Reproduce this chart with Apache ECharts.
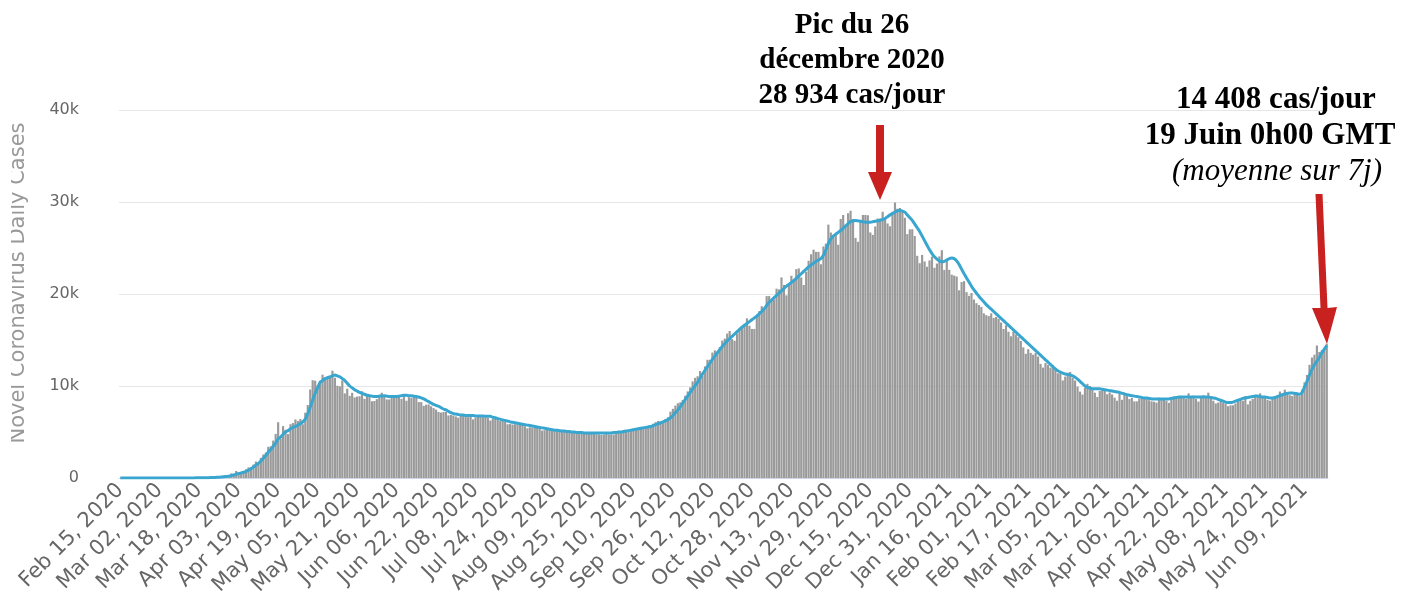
<!DOCTYPE html>
<html>
<head>
<meta charset="utf-8">
<title>Novel Coronavirus Daily Cases</title>
<script src="https://cdn.jsdelivr.net/npm/echarts@6/dist/echarts.min.js"></script>
<style>
  html, body { margin: 0; padding: 0; background: #fff; }
  #chart { width: 1416px; height: 610px; }
</style>
</head>
<body>
<div id="chart"></div>
<script>
// daily new cases, in thousands, Feb 15 2020 -> Jun 18 2021 (one line per month)
const dailyCasesK = [
  0,0,0,0,0,0,0,0,0,0,0,0,0,0,0,
  0,0,0,0,0,0,0,0,0,0,0,0.01,0.01,0.01,0.01,0.03,0.02,0.03,0.05,0.05,0.05,0.06,0.07,0.06,0.16,0.18,0.2,0.23,0.27,0.3,0.5,
  0.44,0.77,0.6,0.58,0.66,0.95,1.15,1.18,1.46,1.79,1.67,2.19,2.56,2.77,3.39,3.45,4.07,4.79,6.06,4.27,5.64,5.24,4.77,5.85,5.97,6.36,6.2,6.41,5.84,7.1,
  7.93,9.62,10.63,10.58,10.1,10.56,11.23,10.7,10.82,11.01,11.66,10.9,10.03,9.97,10.6,9.2,9.71,8.93,9.26,8.76,8.85,8.89,9.43,8.6,8.95,8.92,8.34,8.37,8.57,8.95,9.27,
  9.04,8.54,8.54,8.83,8.73,8.86,8.98,8.6,8.99,8.4,8.78,8.71,8.84,8.84,8.25,8.25,7.84,7.97,7.99,7.79,7.6,7.43,7.18,7.11,7.18,7.18,6.8,6.85,6.79,6.69,
  6.56,6.76,6.74,6.63,6.61,6.74,6.37,6.56,6.63,6.64,6.61,6.62,6.54,6.25,6.42,6.43,6.41,6.2,6.17,6.11,5.84,5.86,5.81,5.85,5.81,5.77,5.76,5.64,5.4,5.51,5.48,
  5.46,5.43,5.43,5.16,5.2,5.24,5.21,5.24,5.19,5.1,5.12,5.1,5.06,5.07,5.06,4.95,4.93,4.91,4.89,4.87,4.83,4.84,4.81,4.92,4.85,4.75,4.74,4.68,4.71,4.98,4.73,
  4.73,4.73,4.99,5.11,5.0,5.21,5.2,5.18,5.1,5.36,5.36,5.45,5.44,5.45,5.51,5.53,5.67,5.9,6.07,6.2,6.15,6.23,6.43,6.6,7.21,7.52,7.87,8.13,8.23,8.48,
  8.95,9.41,9.86,10.5,10.89,11.06,11.62,11.12,12.13,12.85,12.85,13.63,13.87,13.75,14.23,14.93,15.15,15.7,15.98,15.1,14.92,15.7,16.2,16.52,16.74,17.35,16.55,16.2,16.2,17.7,18.14,
  18.67,18.26,19.77,19.77,19.4,19.4,20.58,20.5,21.8,20.98,19.85,20.98,21.98,21.61,22.7,22.78,21.8,20.98,22.41,23.61,24.32,24.82,24.58,24.58,23.23,25.17,25.47,27.54,26.68,26.34,
  26.4,25.35,28.15,28.59,27.4,28.78,29.04,28.14,26.1,25.67,27.93,28.59,28.59,28.56,26.69,26.43,27.34,28.21,28.21,28.95,28.14,27.66,27.36,28.93,29.94,29.26,29.34,28.95,28.28,26.51,27.03,
  27.04,26.3,24.15,23.35,24.25,23.54,22.96,23.65,24.06,22.85,23.31,24.09,24.76,22.62,23.63,22.63,22.1,22.0,21.9,20.4,21.3,21.4,20.2,19.8,20.1,19.4,19.0,18.8,18.6,17.9,17.7,
  17.6,17.9,17.4,17.5,17.3,16.9,16.2,16.6,15.9,15.4,15.9,15.6,15.3,14.9,14.2,13.5,14.0,13.6,13.4,13.6,13.2,12.4,12.0,12.5,12.3,12.0,12.1,11.7,
  11.38,11.36,10.6,11.02,11.45,11.53,10.9,10.6,9.93,9.39,9.07,9.8,10.24,10.0,9.6,9.27,8.8,9.46,9.7,9.5,9.1,9.3,9.08,8.73,8.4,9.14,8.5,9.06,8.9,8.58,8.7,
  8.33,8.33,8.6,8.65,8.65,8.6,8.45,8.33,8.29,8.2,8.73,8.6,8.6,8.4,8.17,8.6,8.86,8.7,8.71,8.7,8.69,8.6,9.2,8.84,8.95,8.6,8.3,8.7,9.0,8.9,
  9.27,8.7,8.4,8.1,8.2,8.3,8.2,8.1,7.8,7.9,7.9,8.1,8.3,8.6,8.4,8.9,8.0,8.4,8.6,8.8,8.9,9.2,8.7,8.8,8.5,8.4,8.6,8.8,9.0,9.4,9.1,
  9.6,9.3,9.0,8.9,9.3,9.1,8.9,9.6,10.4,11.2,12.3,13.1,13.4,14.4,13.7,13.9,14.1,14.6
]

// 7-day average, in thousands, same days
const avg7DayK = [
  0,0,0,0,0,0,0,0,0,0,0,0,0,0,0,
  0,0,0,0,0,0,0,0,0,0,0,0,0.01,0.01,0.01,0.01,0.02,0.02,0.03,0.03,0.04,0.04,0.05,0.05,0.07,0.09,0.11,0.14,0.17,0.2,0.26,
  0.33,0.42,0.48,0.55,0.62,0.72,0.85,1.0,1.2,1.4,1.6,1.85,2.15,2.45,2.8,3.1,3.45,3.8,4.25,4.45,4.75,5.0,5.15,5.35,5.5,5.6,5.75,5.9,6.1,6.4,
  7.0,7.7,8.5,9.2,9.8,10.4,10.6,10.8,10.9,11.0,11.1,11.2,11.1,11.0,10.8,10.6,10.3,10.0,9.8,9.6,9.45,9.3,9.2,9.1,9.0,8.95,8.9,8.85,8.85,8.9,8.9,
  8.95,8.9,8.85,8.85,8.85,8.85,8.9,8.95,9.0,9.0,8.95,8.95,8.9,8.85,8.8,8.7,8.6,8.45,8.3,8.15,8.0,7.9,7.8,7.65,7.5,7.4,7.25,7.1,7.0,6.95,
  6.9,6.85,6.85,6.8,6.8,6.8,6.8,6.75,6.75,6.75,6.75,6.7,6.7,6.7,6.6,6.55,6.45,6.4,6.3,6.25,6.2,6.1,6.05,6.0,5.95,5.9,5.85,5.8,5.75,5.7,5.65,
  5.6,5.55,5.5,5.45,5.4,5.35,5.3,5.25,5.2,5.2,5.15,5.1,5.1,5.05,5.05,5.0,5.0,4.95,4.95,4.95,4.9,4.9,4.9,4.9,4.9,4.9,4.9,4.9,4.9,4.9,4.9,
  4.9,4.95,4.95,5.0,5.0,5.05,5.1,5.15,5.2,5.25,5.3,5.35,5.4,5.45,5.5,5.55,5.6,5.7,5.8,5.9,6.0,6.1,6.2,6.35,6.55,6.8,7.1,7.4,7.75,8.15,
  8.55,8.9,9.3,9.7,10.05,10.4,10.85,11.3,11.7,12.1,12.5,12.9,13.25,13.6,13.95,14.3,14.6,14.9,15.15,15.4,15.65,15.9,16.15,16.4,16.6,16.8,17.0,17.2,17.4,17.6,17.85,
  18.1,18.4,18.75,19.1,19.35,19.6,19.85,20.1,20.35,20.6,20.85,21.05,21.25,21.45,21.7,21.95,22.2,22.45,22.7,22.95,23.15,23.35,23.55,23.7,23.85,24.2,24.8,25.5,26.0,26.3,
  26.5,26.7,26.9,27.15,27.4,27.65,27.9,27.95,28.0,27.95,27.9,27.85,27.8,27.8,27.8,27.85,27.9,27.95,28.0,28.1,28.2,28.4,28.6,28.75,28.9,29.05,29.1,29.0,28.9,28.6,28.3,
  28.0,27.6,27.2,26.8,26.3,25.8,25.3,24.8,24.4,24.05,23.8,23.6,23.5,23.55,23.7,23.85,23.9,23.85,23.6,23.2,22.7,22.2,21.75,21.3,20.85,20.45,20.1,19.75,19.45,19.15,18.85,
  18.6,18.35,18.1,17.85,17.6,17.35,17.1,16.85,16.6,16.35,16.1,15.85,15.6,15.35,15.1,14.85,14.6,14.35,14.1,13.85,13.6,13.35,13.1,12.85,12.6,12.35,12.1,11.85,
  11.65,11.5,11.4,11.3,11.25,11.2,11.1,10.95,10.75,10.5,10.25,10.0,9.85,9.75,9.7,9.7,9.7,9.7,9.65,9.6,9.55,9.5,9.45,9.4,9.35,9.3,9.2,9.15,9.05,9.0,8.95,
  8.9,8.85,8.8,8.75,8.7,8.7,8.65,8.6,8.6,8.6,8.6,8.6,8.6,8.6,8.6,8.65,8.7,8.75,8.8,8.8,8.8,8.8,8.8,8.8,8.8,8.8,8.8,8.8,8.8,8.8,
  8.8,8.75,8.7,8.65,8.55,8.45,8.35,8.25,8.2,8.2,8.25,8.35,8.45,8.55,8.65,8.7,8.75,8.8,8.85,8.9,8.9,8.85,8.8,8.8,8.75,8.7,8.7,8.75,8.85,8.95,9.05,
  9.15,9.2,9.25,9.25,9.2,9.15,9.1,9.3,9.9,10.5,11.2,11.8,12.3,12.7,13.1,13.6,14.0,14.4
]

const yTicksK = [0, 10, 20, 30, 40]
const monthNames = ['Jan', 'Feb', 'Mar', 'Apr', 'May', 'Jun', 'Jul', 'Aug', 'Sep', 'Oct', 'Nov', 'Dec']
const firstDay = Date.UTC(2020, 1, 15)

// "Feb 15, 2020" style category labels, one per day
const dayLabels = dailyCasesK.map((v, i) => {
  const d = new Date(firstDay + i * 86400000)
  return monthNames[d.getUTCMonth()] + ' ' + String(d.getUTCDate()).padStart(2, '0') + ', ' + d.getUTCFullYear()
})

const peakNote = ['Pic du 26', 'décembre 2020', '28 934 cas/jour']
const lastNote = ['14 408 cas/jour', '19 Juin 0h00 GMT', '(moyenne sur 7j)']

const arrowRed = '#c8211f'
const noteFont = '"Liberation Serif", "Times New Roman", serif'

const chart = echarts.init(document.getElementById('chart'))

let option = {
  animation: false,
  grid: { left: 117, right: 88, top: 110, bottom: 132 },
  xAxis: {
    type: 'category',
    data: dayLabels,
    boundaryGap: true,
    axisLine: { lineStyle: { color: '#ccd6eb', width: 1 } },
    axisTick: { show: false },
    axisLabel: {
      interval: 15,
      rotate: 45,
      margin: 9,
      color: '#666',
      fontSize: 21,
      fontFamily: 'DejaVu Sans'
    }
  },
  yAxis: {
    type: 'value',
    min: yTicksK[0],
    max: yTicksK[yTicksK.length - 1],
    interval: 10,
    name: 'Novel Coronavirus Daily Cases',
    nameLocation: 'middle',
    nameGap: 90,
    nameTextStyle: { color: '#999', fontSize: 21, fontFamily: 'DejaVu Sans', padding: [0, 0, 0, 22] },
    axisLine: { show: false },
    axisTick: { show: false },
    axisLabel: {
      margin: 40,
      color: '#666',
      fontSize: 16,
      fontFamily: 'DejaVu Sans',
      formatter: v => (v === 0 ? '0' : v + 'k')
    },
    splitLine: { lineStyle: { color: '#e6e6e6', width: 1 } }
  },
  series: [
    {
      name: 'Daily Cases',
      type: 'bar',
      data: dailyCasesK,
      barCategoryGap: '12%',
      itemStyle: { color: '#9a9a9a' },
      z: 2
    },
    {
      name: '7-day average',
      type: 'line',
      data: avg7DayK,
      symbol: 'none',
      smooth: 0.2,
      lineStyle: { color: '#38a6cf', width: 3 },
      z: 3
    }
  ],
  graphic: [
    // the axis name is cut at the left edge in the source
    { type: 'rect', left: 0, top: 100, shape: { width: 11, height: 380 }, style: { fill: '#fff' }, z: 100 },
    // note for the December peak
    ...peakNote.map((t, k) => ({
      type: 'text', x: 852, y: 26 + k * 35, z: 100,
      style: { text: t, textAlign: 'center', textVerticalAlign: 'middle', fill: '#000', font: 'bold 29px ' + noteFont }
    })),
    { type: 'polygon', z: 100, shape: { points: [[876, 125], [884, 125], [884, 172], [892, 172], [880, 200], [868, 172], [876, 172]] }, style: { fill: arrowRed } },
    // note for the last day
    ...lastNote.map((t, k) => ({
      type: 'text', x: [1276, 1270, 1277][k], y: 100 + k * 36, z: 100,
      style: {
        text: t, textAlign: 'center', textVerticalAlign: 'middle', fill: '#000',
        font: (k === 2 ? 'italic 31px ' : 'bold 31px ') + noteFont
      }
    })),
    { type: 'polygon', z: 100, shape: { points: [[1315.5, 194], [1322.5, 194], [1327.5, 308], [1337, 307], [1327, 344], [1312, 308], [1320.5, 308]] }, style: { fill: arrowRed } }
  ]
}
chart.setOption(option)
</script>
</body>
</html>
